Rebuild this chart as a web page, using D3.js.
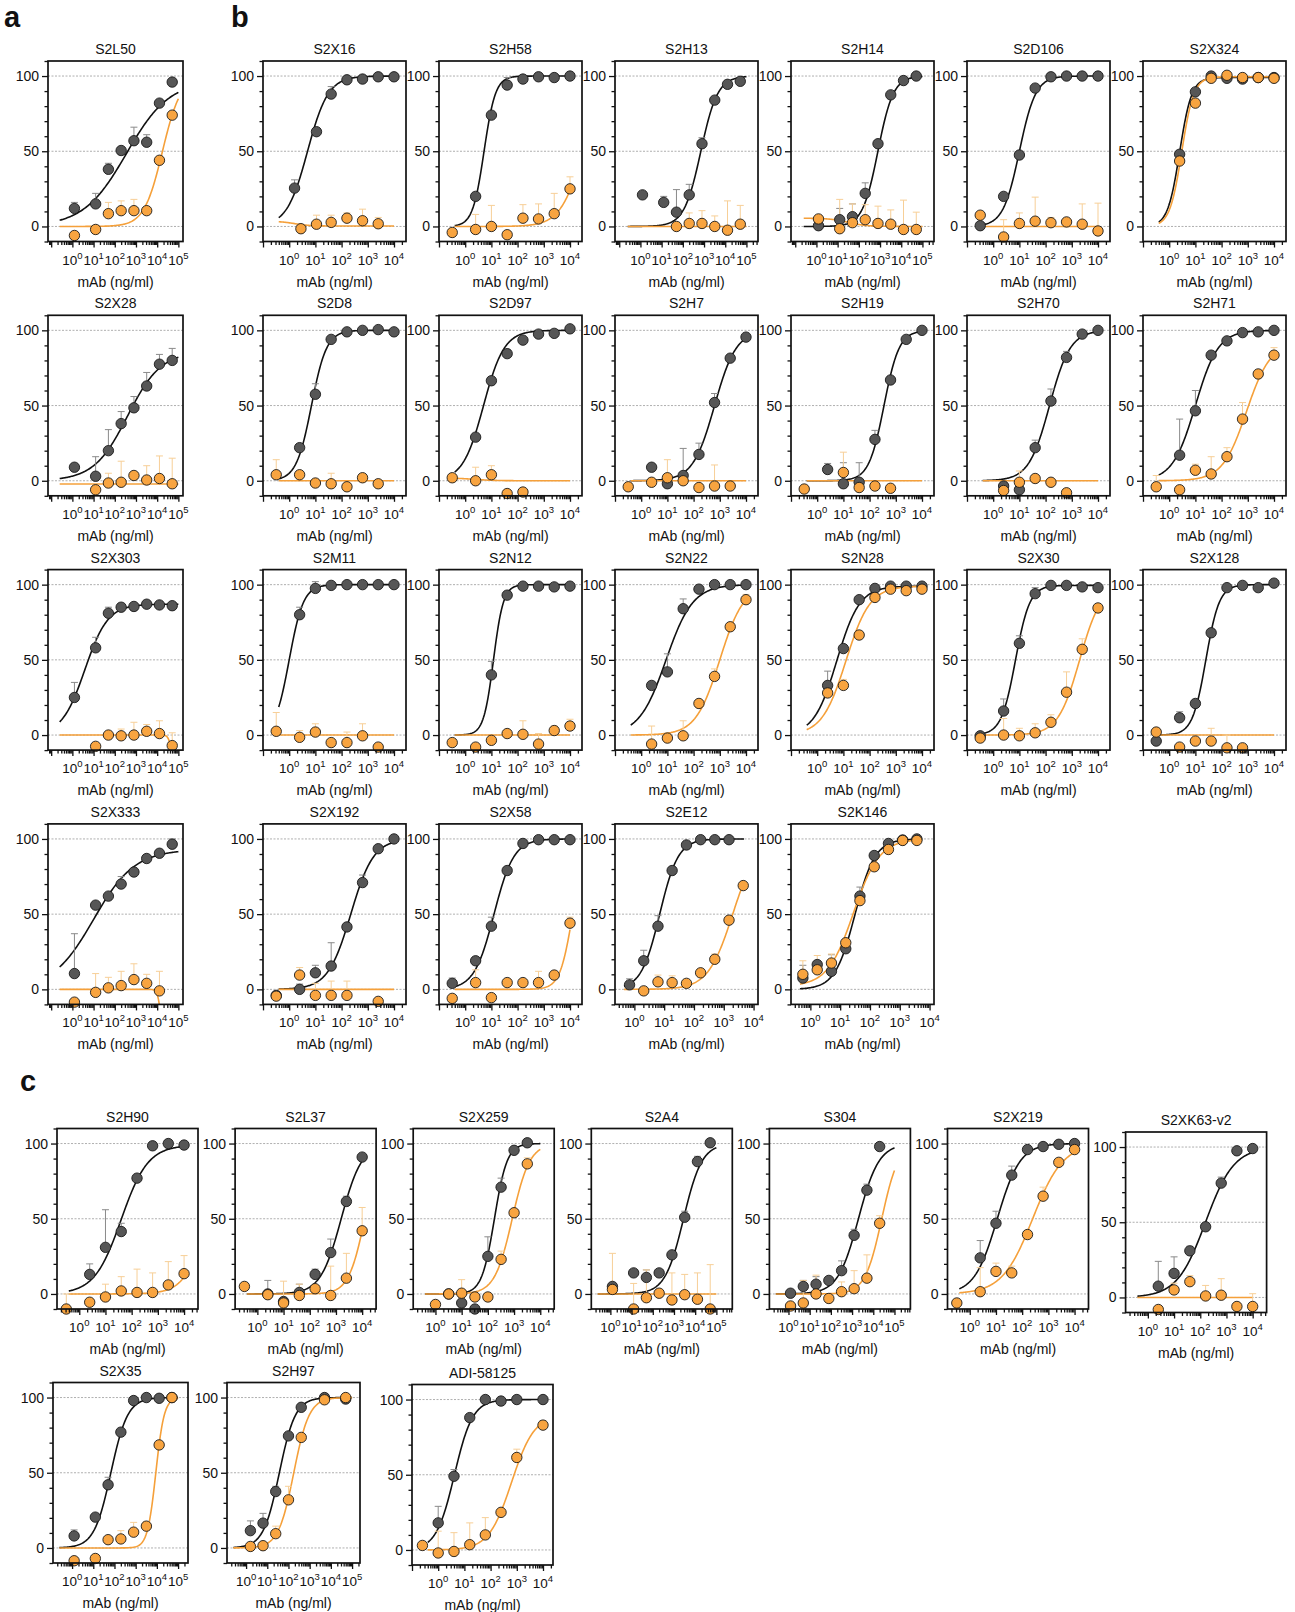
<!DOCTYPE html>
<html>
<head>
<meta charset="utf-8">
<script src="https://cdn.jsdelivr.net/npm/d3@7"></script>
<style>
  body { margin: 0; background: #fff; }
  svg text { font-family: "Liberation Sans", Arial, Helvetica, sans-serif; fill: #111; }
</style>
</head>
<body>
<svg id="fig" width="1295" height="1612"></svg>
<script>
// ---- data ----
const names = [
  'S2L50', 'S2X28', 'S2X303', 'S2X333',
  'S2X16', 'S2H58', 'S2H13', 'S2H14', 'S2D106', 'S2X324',
  'S2D8', 'S2D97', 'S2H7', 'S2H19', 'S2H70', 'S2H71',
  'S2M11', 'S2N12', 'S2N22', 'S2N28', 'S2X30', 'S2X128',
  'S2X192', 'S2X58', 'S2E12', 'S2K146',
  'S2H90', 'S2L37', 'S2X259', 'S2A4', 'S304', 'S2X219', 'S2XK63-v2',
  'S2X35', 'S2H97', 'ADI-58125'
];

// which x axis: d4 = labels up to 10^4, d5 = up to 10^5, e = 10^4 at right edge
const axisKind = [
  'd5', 'd5', 'd5', 'd5',
  'd4', 'd4', 'd5', 'd5', 'd4', 'd4',
  'd4', 'd4', 'd4', 'd4', 'd4', 'd4',
  'd4', 'd4', 'd4', 'd4', 'd4', 'd4',
  'd4', 'd4', 'e', 'e',
  'd4', 'd4', 'd4', 'd5', 'd5', 'd4', 'd4',
  'd5', 'd5', 'd4'
];

// mAb concentrations (ng/ml)
const dil4 = [0.32, 2.5, 10, 40, 160, 630, 2500, 10000];
const dil5 = [1.25, 12.5, 50, 200, 800, 3200, 12800, 51200];
const doseS2X16 = [1.6, 2.8, 11, 40, 160, 630, 2500, 10000];
const doseS2E12 = [0.69, 2.06, 6.2, 18.5, 56, 167, 500, 1500, 4500];
const doseS2K146 = [0.56, 1.7, 5.1, 15.4, 46, 139, 417, 1250, 3750];
const doseS2X259 = [1, 3.2, 10, 32, 100, 320, 1000, 3200];
const doseS304 = [1.25, 5, 20, 80, 320, 1250, 5000, 20000];
const doseS2H97 = [1.6, 6.3, 25, 100, 400, 5000, 50000];
const doseADI = [0.25, 1, 4, 16, 63, 250, 1000, 10000];

const doses = [
  dil5, dil5, dil5, dil5,
  doseS2X16, dil4, dil5, dil5, dil4, dil4,
  dil4, dil4, dil4, dil4, dil4, dil4,
  dil4, dil4, dil4, dil4, dil4, dil4,
  dil4, dil4, doseS2E12, doseS2K146,
  dil4, dil4, doseS2X259, dil5, doseS304, dil4, dil4,
  dil5, doseS2H97, doseADI
];

// black series: mean and top of error bar (% neutralization)
const blackMean = [
  [12, 15, 38, 50.5, 57, 56, 82, 96],
  [9, 3, 20, 38, 48.5, 63, 77.5, 80],
  [25, 58, 81, 85, 85.5, 87, 86.5, 86],
  [10.5, 56, 62, 70, 78, 87, 90.5, 96.5],
  [25.5, null, 63, 88, 97.5, 98, 99.5, 99.5],
  [null, 20, 74, 94, 98, 99.5, 99, 100],
  [21, 16, 9.5, 21, 55, 84, 94.5, 96.5],
  [0.5, 4.5, 6.5, 22, 55, 87.5, 97, 100],
  [0.5, 20, 47.5, 92, 99.5, 100, 100, 100],
  [null, 48, 89.5, 100, 98.5, 98, 99, 99],
  [null, 22, 57.5, 94, 99, 100, 100.5, 99],
  [null, 29, 66.5, 84.5, 93.5, 97.5, 98, 101],
  [null, 9, -2, 3.5, 17.5, 52, 81.5, 95.5],
  [null, 7.5, -2, -1, 27.5, 67, 94, 100],
  [null, -3.5, -6, 22, 53, 82, 97.5, 100],
  [null, 17, 46.5, 83.5, 93, 98.5, 99, 100],
  [null, 80, 97.5, 99.5, 100, 100, 100, 100],
  [null, null, 40, 93, 99, 99, 98.5, 99],
  [null, 33, 42, 84, 97, 100, 100, 100],
  [null, 33, 57.5, 90, 97.5, 99, 99, 99],
  [-0.5, 16, 61, 94, 99.5, 99.5, 98.5, 98],
  [-4, 11.5, 21, 68, 98, 99.5, 98, 101],
  [-4, 0, 11, 15.5, 41.5, 71, 93.5, 100],
  [4, 19, 42, 79, 97, 99.5, 99.5, 99.5],
  [3, 19, 42, 79, 96, 99.5, 99.5, 99.5, null],
  [7.5, 16.5, 12, 27, 62, 89, 97, 99.3, 100],
  [null, 13, 31, 41.5, 77, 98.5, 100, 99],
  [null, 0, -5, 1, 13, 27.5, 61.5, 91],
  [null, 0, -6, -10, 25, 71, 95.5, 100.5],
  [5, 14, 11, 14, 26, 51, 88, 100.5],
  [0.5, 5, 6.5, 9, 15.5, 39, 69, 98],
  [null, 24, 47, 79, 96, 98, 99.5, 100],
  [null, 7.5, 16, 31, 47, 76, 97.5, 99],
  [8, 20.5, 42, 77, 98, 100, 99.5, 100],
  [11.5, 16.5, 37.5, 74.5, 93.5, 100, 99],
  [null, 18, 49, 88, 100, 99, 100, 100]
];
const blackErr = [
  [16, 22, 42, null, 66, 61, null, null],
  [null, 16, 34, 46, 56, 72, 84, 88],
  [35, 65, 85, 87.5, null, null, null, null],
  [37, null, null, 75, null, null, null, 100],
  [31, null, null, 93, null, null, null, null],
  [null, 22, null, 99, null, null, null, null],
  [null, 20, 24.5, 28, 59, null, null, 99],
  [null, 12, 15, 29, null, null, null, null],
  [],
  [],
  [null, null, 64.5],
  [null, null, null, 87],
  [null, null, null, 21.5, 25, 58],
  [null, 11.5, 12, 12, 33.5],
  [null, null, null, 27, 61, 86],
  [null, 41, 60, null, null, null, 101],
  [null, 85, 102],
  [null, null, 49, 95.5],
  [null, null, 54, 90.5],
  [null, 42.5],
  [null, 24, 66, 98],
  [null, 15.5],
  [null, 3.5, 16, 31, null, 76],
  [7.5, null, 48],
  [7, 26, 49],
  [16, null, 23, null, 68],
  [null, 20, 56, 47],
  [null, 9, null, 6.5, 16.5, 36.5, 65],
  [null, null, null, null, 38, 77],
  [null, null, 16, null, null, 55, 91.5],
  [null, 9, 11.5, 11, 22, 43, 73],
  [null, 35.5, 55, 85],
  [null, 24, 27, 34, null, 80],
  [12, null, 47],
  [18, 23, 41],
  [null, 29, 53.5]
];

// orange series: mean and top of error bar
const orangeMean = [
  [-6, -2, 8.5, 10.5, 10.5, 10.5, 44, 74],
  [null, -6, -1.5, -1, 3.5, 0.5, 1.5, -2],
  [null, -7.5, 0, -0.5, 0, 2.5, 1, -7],
  [-8.5, -2, 1, 2.5, 6.5, 4, -1, null],
  [null, -1.5, 1.5, 2.7, 5.5, 3.8, 1.8, null],
  [-4, -2, 0, -5.5, 5.5, 5, 8.5, 25],
  [null, null, 0, 2, 2, 0, -2.5, 1.5],
  [5, -1.5, 2.5, 4.5, 2, 1.5, -2, -2],
  [7.5, -7, 2, 3.5, 2.5, 3, 1.5, -3],
  [null, 43.5, 82, 98.5, 100.5, 99, 99, 98.5],
  [4, 4, -1.5, -2, -4, 2, -2, null],
  [2, 0, 4, -8.5, -7.5, null, null, null],
  [-4, -1, 2, 0, -4.5, -3.5, -3.5, null],
  [-5.5, null, 5.5, -4.5, -3.5, -5, null, null],
  [null, -6.5, -1, 1.5, -1, -8, null, null],
  [-4, -6, 7, 4.5, 16, 41, 71, 83.5],
  [2.5, -1.5, 2, -5, -5, -0.5, -8, null],
  [-5, -8, -3.5, 1, 0.5, -6, 3, 6],
  [null, -6, -2, -0.5, 21, 39, 72, 90],
  [null, 28, 33, 66.5, 91.5, 97, 96, 97],
  [-2, 0, -0.5, 1.5, 8.5, 28.5, 57, 84.5],
  [2, -8, -4, -4, -8.5, -8.5, null, null],
  [-4.5, 9.5, -4, -4, -4, null, -8, null],
  [-6, 4.5, -5.5, 4.5, 4.5, 4.5, 9.5, 44],
  [null, -1, 5, 4.5, 4, 11, 20, 46, 69],
  [10, 13, 17.5, 31, 59, 81.5, 93, 99, 99],
  [-10, -5.5, -2, 2, 1, 1, 6, 13.5],
  [5, -0.5, -6, -1, 3.5, -1, 10.5, 42],
  [-7, 0, 0.5, -2, -2, 23, 54, 86.5],
  [3, -10, -2.5, 0.5, -4, -0.5, -3.5, -10],
  [-8, -6, 0, -3, 1.5, 3.5, 10.5, 47],
  [-6, 1.5, 15, 14, 39.5, 65, 87.5, 96],
  [null, -8, 5, 10.5, 1, 1.5, -6, -6],
  [-8.5, -7, 5.5, 6, 10.5, 14.5, 68.5, 100],
  [1, 1.5, 9.5, 32, 73.5, 98.5, 100],
  [3, -2, -1, 3.5, 10, 25, 61.5, 83]
];
const orangeErr = [
  [null, null, 16, 17, 18],
  [null, null, 5, 13, null, 10, 16.5, 15],
  [null, null, null, 4, 8.5, 7, 9.5, 1.5],
  [null, 10.5, 8, 12, 17, 10, 12],
  [null, null, 7.5, 7.5, 9, 11.5, 6],
  [null, 8, 14, null, 14.5, 15, 22, 33],
  [null, null, null, 9, 10.5, 7, 17, 14],
  [null, 18, 15, 14.5, 13.5, 11, 17.5, 9.5],
  [null, 4.5, 9, 19.5, 6, 5, 15, 15.5],
  [],
  [14, null, null, 5],
  [null, 9, 10],
  [null, null, 14, null, null, 10.5],
  [null, null, 19],
  [null, null, 6.5],
  [3.5, null, 11, 16, 22, 52, null, 88.5],
  [15, 3, 7.5, null, 2, 7.5],
  [null, null, null, null, 9.5, 1, 6, 10.5],
  [null, 6, null, 9.5, null, 44, null, 93.5],
  [null, null, 37],
  [null, 11, 4.5, 7.5, 13.5, 42, 64],
  [null, null, null, 4.5, 0],
  [null, 14.5, 4, 5.5, 5.5],
  [null, 13, null, null, null, 12, null, 48],
  [null, null, 9.5, 9, null, null, 23.5],
  [19, 22.5, 23.5],
  [0, null, 6.5, 11.5, 16.5, 14, 21.5, 25.5],
  [null, null, 8.5, 6.5, null, 18.5, 27, 57.5],
  [null, null, 9.5, null, null, 28.5, null, 90.5],
  [27, 7, 16, null, 14, 13, 14, 19.5],
  [null, 9, 12.5, null, 8, 15.5, 26, 52],
  [null, 17.5, 20.5, 18.5, null, 71],
  [null, null, 9.5, 14.5, 8, 12.5, null, 2.5],
  [null, null, null, 11.5, 17, 17.5],
  [null, null, 14.5, 41],
  [null, 12.5, 11.5, 18, 21.5, null, 67, 86]
];

// four-parameter fits: [bottom, top, logEC50, hill]
const blackFit = [
  [0, 97, 2.55, 0.43], [0, 86, 2.6, 0.55], [0, 87, 0.59, 0.8], [0, 93, 1.0, 0.45],
  [0, 100, 0.7, 1.1], [0, 100, 0.72, 2.0], [0, 100, 2.85, 1.1], [0, 100, 2.9, 1.2],
  [0, 100, 1.0, 1.4], [0, 99, 0.4, 1.9],
  [0, 100, 0.85, 1.5], [0, 100, 0.7, 1.1], [0, 100, 2.8, 1.05], [0, 100, 2.55, 1.5],
  [0, 100, 2.15, 1.1], [0, 100, 1.0, 1.0],
  [0, 100, 0.0, 1.6], [0, 100, 1.08, 2.3], [0, 100, 0.95, 0.85], [0, 99, 0.75, 1.0],
  [0, 99.5, 0.85, 1.6], [0, 100, 1.4, 1.7],
  [0, 100, 2.35, 1.0], [0, 100, 1.1, 1.15], [0, 100, 0.85, 1.4], [0, 100, 1.5, 1.3],
  [0, 99, 1.6, 0.85], [0, 100, 3.2, 1.1], [0, 100, 2.25, 1.8], [0, 100, 3.45, 1.0],
  [0, 100, 3.3, 0.9], [0, 100, 1.05, 1.0], [0, 100, 2.2, 0.8],
  [0, 100, 1.83, 1.1], [0, 100, 1.57, 1.15], [0, 100, 0.62, 1.25]
];
const orangeFit = [
  [0, 100, 4.25, 1.0], [-2.2, -2.2, 2, 1], [0, -30, 4.7, 6], [0, -30, 4.15, 6],
  [3.5, 0.3, 0.2, 1.5], [0, 100, 4.5, 1.0], [0, 0, 2, 1], [5.5, 0, 1.5, 1],
  [0, 0, 2, 1], [0, 99.5, 0.48, 1.9],
  [0, 0, 2, 1], [2, 0, 0.3, 1], [0, 0, 2, 1], [0, 0, 2, 1],
  [0, 0, 2, 1], [0, 92, 2.95, 0.95],
  [0, 0, 2, 1], [0, 0, 2, 1], [0, 100, 3.0, 0.95], [0, 99, 1.1, 0.95],
  [0, 100, 3.3, 1.05], [0, 0, 2, 1],
  [0, 0, 2, 1], [0, 100, 4.1, 1.8], [0, 100, 3.3, 1.05], [2, 100, 1.45, 1.0],
  [0, 100, 4.9, 1.0], [0, 100, 4.1, 1.4], [0, 100, 2.93, 1.3], [0, 0, 2, 1],
  [0, 100, 4.4, 1.1], [0, 100, 2.4, 0.75], [0, 0, 2, 1],
  [0, 100, 3.95, 2.2], [0, 100, 2.25, 1.2], [0, 90, 2.8, 1.0]
];

// ---- layout ----
const BOX_H = 180.5;
const ROW_STEP = 254.3;
const slots = [];
for (let r = 0; r < 4; r++) slots.push({ sec: 'a', x: 48, y: 61 + r * ROW_STEP, w: 135 });
[6, 6, 6, 4].forEach((n, r) => {
  for (let c = 0; c < n; c++) slots.push({ sec: 'b', x: 263 + c * 176, y: 61 + r * ROW_STEP, w: 143 });
});
for (let c = 0; c < 7; c++) slots.push({ sec: 'c', x: 57 + c * 178.1, y: c === 6 ? 1132 : 1128.5, w: 141 });
[[53, 135, -0.9], [227, 133, -0.9], [412, 141, -1.0]].forEach(([x, w, lo], c) => {
  slots.push({ sec: 'c', x, y: c === 2 ? 1384.5 : 1382.5, w, lo });
});

// left end of x domain (log10) and pixel density per decade
const LO = { a: { d5: -1.15 }, b: { d4: -1.0, d5: -1.2, e: -0.65 }, c: { d4: -0.85, d5: -0.9 } };
const PX_PER_DEC = { d4: 26.2, d5: 21.2, e: 29.8 };
const CURVE_SPAN = { d4: [-0.4, 4.0], d5: [-0.6, 5.0], e: [-0.35, 3.68] };

const COL_BLACK = '#565656';
const COL_ORANGE = '#f8a440';
const LINE_BLACK = '#111';
const LINE_ORANGE = '#f5a03a';
const ERR_BLACK = '#8a8a8a';
const ERR_ORANGE = '#f7cf97';

const svg = d3.select('#fig');

// section letters
[['a', 4, 27], ['b', 231, 27], ['c', 20, 1091]].forEach(([t, x, y]) => {
  svg.append('text').attr('x', x).attr('y', y)
    .attr('font-size', 29).attr('font-weight', 'bold').text(t);
});

const logistic = (f, v) => f[0] + (f[1] - f[0]) / (1 + Math.pow(10, (f[2] - v) * f[3]));

names.forEach((name, i) => {
  const s = slots[i];
  const kind = axisKind[i];
  const lo = s.lo !== undefined ? s.lo : LO[s.sec][kind];
  const hi = lo + s.w / PX_PER_DEC[kind];
  const x = d3.scaleLog().domain([Math.pow(10, lo), Math.pow(10, hi)]).range([s.x, s.x + s.w]);
  const y = d3.scaleLinear().domain([-10, 110]).range([s.y + BOX_H, s.y]);

  const g = svg.append('g');
  const clipId = 'clip' + i;
  g.append('clipPath').attr('id', clipId)
    .append('rect').attr('x', s.x).attr('y', s.y).attr('width', s.w).attr('height', BOX_H);

  // dashed reference lines
  g.selectAll('.grid').data([0, 50, 100]).enter().append('line')
    .attr('x1', s.x).attr('x2', s.x + s.w)
    .attr('y1', d => y(d)).attr('y2', d => y(d))
    .attr('stroke', '#9a9a9a').attr('stroke-width', 0.8).attr('stroke-dasharray', '2,1.5');

  // fitted curves
  const span = CURVE_SPAN[kind];
  const samples = d3.range(0, 161).map(k => span[0] + (span[1] - span[0]) * k / 160);
  const line = d3.line().x(v => x(Math.pow(10, v)));
  const plot = g.append('g').attr('clip-path', `url(#${clipId})`);
  plot.append('path')
    .attr('d', line.y(v => y(logistic(blackFit[i], v)))(samples))
    .attr('fill', 'none').attr('stroke', LINE_BLACK).attr('stroke-width', 1.6);
  plot.append('path')
    .attr('d', line.y(v => y(logistic(orangeFit[i], v)))(samples))
    .attr('fill', 'none').attr('stroke', LINE_ORANGE).attr('stroke-width', 1.6);

  // points with upper error bars
  const series = [
    { mean: blackMean[i], err: blackErr[i], fill: COL_BLACK, ec: ERR_BLACK },
    { mean: orangeMean[i], err: orangeErr[i], fill: COL_ORANGE, ec: ERR_ORANGE }
  ];
  series.forEach(ser => {
    const pts = doses[i].map((d, k) => ({ d, v: ser.mean[k], e: ser.err[k] }))
      .filter(p => p.v !== null && p.v !== undefined);
    const bars = pts.filter(p => p.e !== null && p.e !== undefined && p.e > p.v);
    const eb = g.append('g').attr('stroke', ser.ec).attr('stroke-width', 1);
    eb.selectAll('.v').data(bars).enter().append('line')
      .attr('x1', p => x(p.d)).attr('x2', p => x(p.d))
      .attr('y1', p => y(p.v)).attr('y2', p => y(p.e));
    eb.selectAll('.c').data(bars).enter().append('line')
      .attr('x1', p => x(p.d) - 3.5).attr('x2', p => x(p.d) + 3.5)
      .attr('y1', p => y(p.e)).attr('y2', p => y(p.e));
  });
  series.forEach(ser => {
    const pts = doses[i].map((d, k) => ({ d, v: ser.mean[k] }))
      .filter(p => p.v !== null && p.v !== undefined);
    g.selectAll(null).data(pts).enter().append('circle')
      .attr('cx', p => x(p.d)).attr('cy', p => y(p.v)).attr('r', 5.2)
      .attr('fill', ser.fill).attr('stroke', '#1a1a1a').attr('stroke-width', 0.9);
  });

  // frame
  g.append('rect').attr('x', s.x).attr('y', s.y).attr('width', s.w).attr('height', BOX_H)
    .attr('fill', 'none').attr('stroke', '#111').attr('stroke-width', 1.7);

  // y axis
  const yMajor = d3.axisLeft(y).tickValues([0, 50, 100]).tickSize(6).tickPadding(3);
  const ya = g.append('g').attr('transform', `translate(${s.x},0)`).call(yMajor);
  const yMinor = d3.axisLeft(y).tickValues(d3.range(-10, 111, 10).filter(v => v % 50 !== 0))
    .tickSize(3.5).tickFormat('');
  g.append('g').attr('transform', `translate(${s.x},0)`).call(yMinor);

  // x axis (log)
  const decades = d3.range(Math.ceil(lo), Math.floor(hi) + 1);
  const labelled = decades.filter(dd => dd >= 0);
  const minors = [];
  d3.range(Math.floor(lo), Math.floor(hi) + 1).forEach(dd => {
    for (let k = 2; k <= 9; k++) {
      const v = dd + Math.log10(k);
      if (v > lo && v < hi) minors.push(Math.pow(10, v));
    }
  });
  const xMajor = d3.axisBottom(x).tickValues(decades.map(dd => Math.pow(10, dd))).tickSize(6).tickFormat('');
  g.append('g').attr('transform', `translate(0,${s.y + BOX_H})`).call(xMajor);
  const xMinor = d3.axisBottom(x).tickValues(minors).tickSize(3.5).tickFormat('');
  g.append('g').attr('transform', `translate(0,${s.y + BOX_H})`).call(xMinor);

  g.selectAll('.domain').remove();
  g.selectAll('.tick line').attr('stroke', '#111').attr('stroke-width', 1.3);
  ya.selectAll('.tick text').attr('font-size', 14).attr('fill', '#111')
    .style('font-family', '"Liberation Sans", Arial, sans-serif');

  const lab = g.selectAll('.xl').data(labelled).enter().append('text')
    .attr('x', dd => x(Math.pow(10, dd)))
    .attr('y', s.y + BOX_H + 23)
    .attr('text-anchor', 'middle').attr('font-size', 13.5);
  lab.append('tspan').text('10');
  lab.append('tspan').attr('dy', -6).attr('font-size', 9.5).text(dd => dd);

  g.append('text').attr('x', s.x + s.w / 2).attr('y', s.y + BOX_H + 45)
    .attr('text-anchor', 'middle').attr('font-size', 14).text('mAb (ng/ml)');
  g.append('text').attr('x', s.x + s.w / 2).attr('y', s.y - 7)
    .attr('text-anchor', 'middle').attr('font-size', 14).text(name);
});
</script>
</body>
</html>
